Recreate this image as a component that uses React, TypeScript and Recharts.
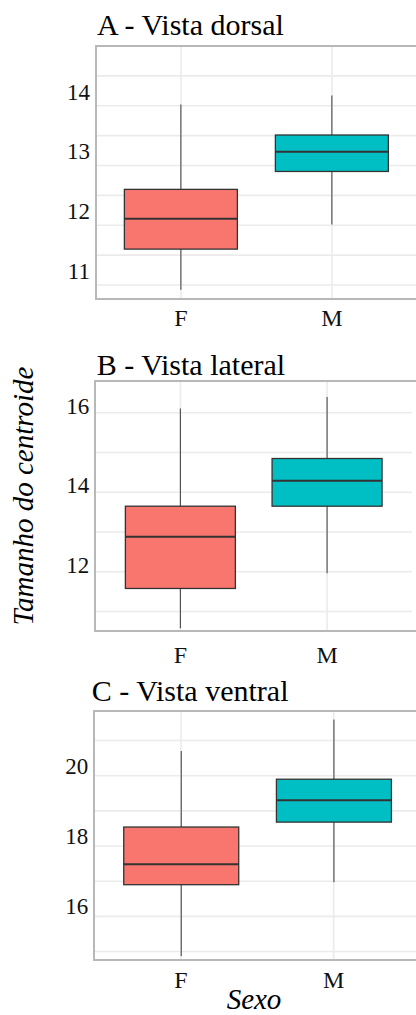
import React from 'react';
import { ComposedChart, Bar, XAxis, YAxis, CartesianGrid } from 'recharts';

// ---------- data ----------
const categories = ['F', 'M'];
const boxColors = ['#F8766D', '#00BFC4'];

// A - Vista dorsal
const dorsalMin = [10.92, 12.01];
const dorsalQ1 = [11.6, 12.9];
const dorsalMedian = [12.11, 13.23];
const dorsalQ3 = [12.6, 13.51];
const dorsalMax = [14.02, 14.17];
const dorsalTicks = [11, 12, 13, 14];
const dorsalGrid = [11, 11.5, 12, 12.5, 13, 13.5, 14, 14.5];
const dorsalDomain = [10.76, 15.0];

// B - Vista lateral
const lateralMin = [10.58, 11.96];
const lateralQ1 = [11.58, 13.65];
const lateralMedian = [12.88, 14.29];
const lateralQ3 = [13.65, 14.85];
const lateralMax = [16.11, 16.4];
const lateralTicks = [12, 14, 16];
const lateralGrid = [11, 12, 13, 14, 15, 16];
const lateralDomain = [10.51, 16.8];

// C - Vista ventral
const ventralMin = [14.87, 16.97];
const ventralQ1 = [16.9, 18.68];
const ventralMedian = [17.48, 19.3];
const ventralQ3 = [18.54, 19.9];
const ventralMax = [20.7, 21.6];
const ventralTicks = [16, 18, 20];
const ventralGrid = [15, 16, 17, 18, 19, 20, 21];
const ventralDomain = [14.75, 21.84];

const titles = ['A - Vista dorsal', 'B - Vista lateral', 'C - Vista ventral'];
const yTitle = 'Tamanho do centroide';
const xTitle = 'Sexo';

// ---------- helpers ----------
const FONT = "'Liberation Serif', 'Times New Roman', serif";

function buildRows(mn: number[], q1: number[], md: number[], q3: number[], mx: number[]) {
  return categories.map((c, i) => ({
    sex: c,
    range: [mn[i], mx[i]],
    min: mn[i],
    q1: q1[i],
    median: md[i],
    q3: q3[i],
    max: mx[i],
    color: boxColors[i],
  }));
}

const BoxShape = (props: any) => {
  const { x, y, width, height } = props;
  const p = props.payload || props;
  const { min, max, q1, median, q3, color } = p;
  const span = max - min;
  const yOf = (v: number) => y + (height * (max - v)) / span;
  const cx = x + width / 2;
  return (
    <g>
      <line x1={cx} x2={cx} y1={yOf(max)} y2={yOf(q3)} stroke="#4a4a4a" strokeWidth={1.1} />
      <line x1={cx} x2={cx} y1={yOf(q1)} y2={yOf(min)} stroke="#4a4a4a" strokeWidth={1.1} />
      <rect
        x={x}
        y={yOf(q3)}
        width={width}
        height={yOf(q1) - yOf(q3)}
        fill={color}
        stroke="#333333"
        strokeWidth={1.3}
      />
      <line x1={x} x2={x + width} y1={yOf(median)} y2={yOf(median)} stroke="#333333" strokeWidth={2} />
    </g>
  );
};

const makeYTick = (shift: number) => (props: any) => {
  const { x, y, payload } = props;
  return (
    <text
      x={x}
      y={y + shift}
      dy="0.34em"
      textAnchor="end"
      fontFamily={FONT}
      fontSize={23}
      fill="#111111"
    >
      {payload.value}
    </text>
  );
};

interface PanelProps {
  rows: any[];
  domain: number[];
  ticks: number[];
  grid: number[];
  L: number;
  R: number;
  T: number;
  B: number;
  pad: number;
  xTickMargin: number;
  yShift: number;
}

const Panel = ({ rows, domain, ticks, grid, L, R, T, B, pad, xTickMargin, yShift }: PanelProps) => {
  const plotH = B - T;
  const xAxisH = 45;
  return (
    <>
      <div style={{ position: 'absolute', left: 0, top: T }}>
        <ComposedChart
          width={R}
          height={plotH + xAxisH}
          data={rows}
          margin={{ top: 0, right: 0, bottom: 0, left: 0 }}
          barCategoryGap="12.5%"
        >
          <CartesianGrid
            stroke="#ebebeb"
            strokeWidth={1.6}
            horizontalValues={grid}
            syncWithTicks
          />
          <XAxis
            dataKey="sex"
            type="category"
            height={xAxisH}
            padding={{ left: pad, right: pad }}
            axisLine={false}
            tickLine={false}
            tickSize={0}
            tickMargin={xTickMargin}
            tick={{ fontFamily: FONT, fontSize: 24, fill: '#111111' }}
            interval={0}
          />
          <YAxis
            type="number"
            domain={domain}
            ticks={ticks}
            width={L}
            axisLine={false}
            tickLine={false}
            tickSize={0}
            tickMargin={6}
            allowDataOverflow
            tick={makeYTick(yShift)}
          />
          <Bar dataKey="range" shape={BoxShape} isAnimationActive={false} />
        </ComposedChart>
      </div>
      <div
        style={{
          position: 'absolute',
          left: L - 1,
          top: T - 1,
          width: 460,
          height: plotH + 2,
          border: '2px solid #b8b8b8',
          boxSizing: 'border-box',
        }}
      />
    </>
  );
};

export default function App() {
  const dorsalRows = buildRows(dorsalMin, dorsalQ1, dorsalMedian, dorsalQ3, dorsalMax);
  const lateralRows = buildRows(lateralMin, lateralQ1, lateralMedian, lateralQ3, lateralMax);
  const ventralRows = buildRows(ventralMin, ventralQ1, ventralMedian, ventralQ3, ventralMax);
  return (
    <div
      style={{
        position: 'fixed',
        left: 0,
        top: 0,
        width: 416,
        height: 1015,
        overflow: 'hidden',
        background: '#ffffff',
      }}
    >
      <Panel
        rows={dorsalRows}
        domain={dorsalDomain}
        ticks={dorsalTicks}
        grid={dorsalGrid}
        L={96}
        R={417}
        T={46}
        B={299.3}
        pad={9.5}
        xTickMargin={9.7}
        yShift={-14}
      />
      <Panel
        rows={lateralRows}
        domain={lateralDomain}
        ticks={lateralTicks}
        grid={lateralGrid}
        L={95.3}
        R={412.2}
        T={381}
        B={631}
        pad={11.75}
        xTickMargin={14.7}
        yShift={-7}
      />
      <Panel
        rows={ventralRows}
        domain={ventralDomain}
        ticks={ventralTicks}
        grid={ventralGrid}
        L={94.3}
        R={420.4}
        T={710.7}
        B={960}
        pad={10.35}
        xTickMargin={10.7}
        yShift={-10}
      />
      <svg
        width={416}
        height={1015}
        style={{ position: 'absolute', left: 0, top: 0, pointerEvents: 'none' }}
      >
        <text x={97} y={35} fontFamily={FONT} fontSize={30} fill="#000000">
          {titles[0]}
        </text>
        <text x={96.7} y={375} fontFamily={FONT} fontSize={30} fill="#000000">
          {titles[1]}
        </text>
        <text x={91.7} y={700.7} fontFamily={FONT} fontSize={30} fill="#000000">
          {titles[2]}
        </text>
        <text
          x={0}
          y={0}
          transform="translate(32.5 496) rotate(-90)"
          textAnchor="middle"
          fontFamily={FONT}
          fontStyle="italic"
          fontSize={29}
          fill="#000000"
        >
          {yTitle}
        </text>
        <text
          x={254}
          y={1009}
          textAnchor="middle"
          fontFamily={FONT}
          fontStyle="italic"
          fontSize={29}
          fill="#000000"
        >
          {xTitle}
        </text>
      </svg>
    </div>
  );
}
